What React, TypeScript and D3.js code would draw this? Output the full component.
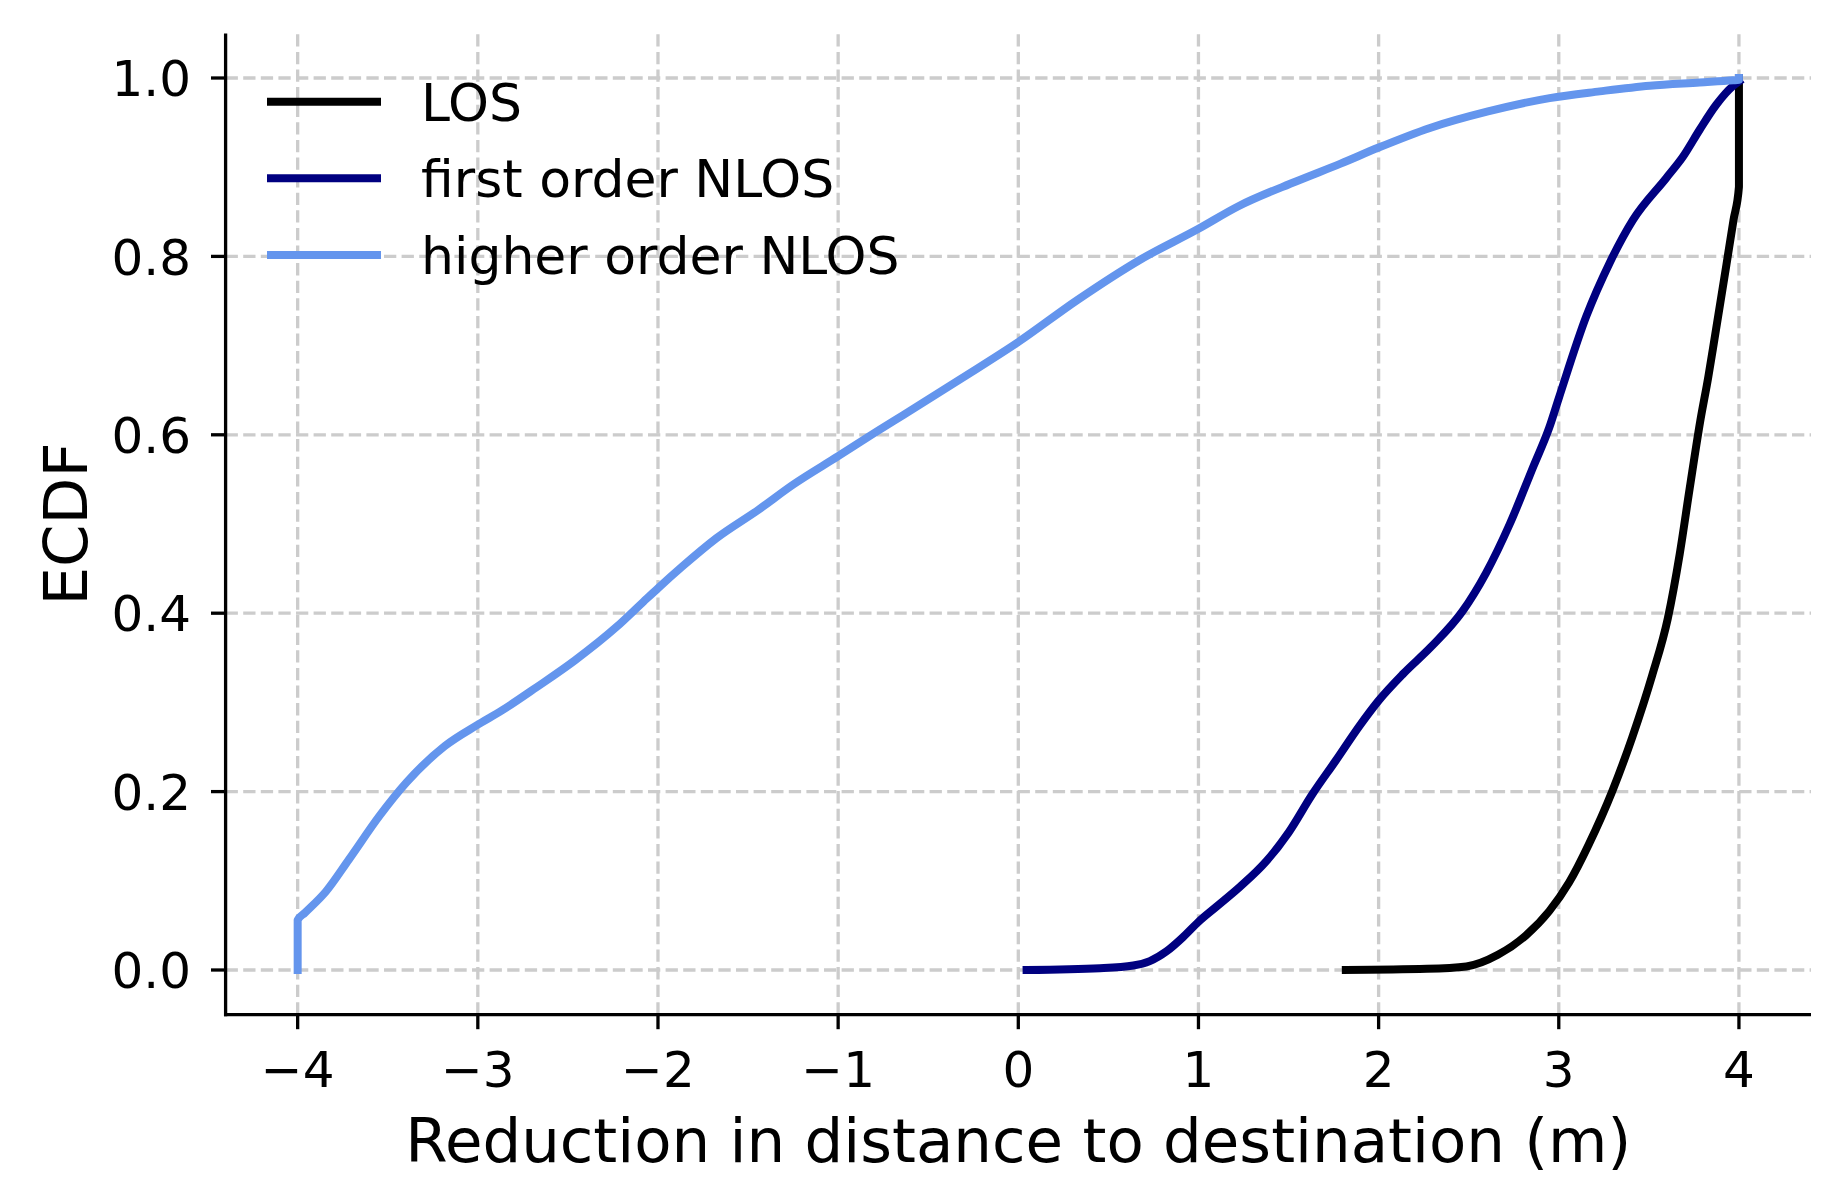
import * as d3 from "d3"
import { useEffect, useRef } from "react"

// values (ECDF of distance reduction)
const losX = [1.818, 2.268, 2.487, 2.662, 2.816, 2.947, 3.057, 3.167, 3.298, 3.408, 3.518, 3.605, 3.671, 3.726, 3.785, 3.83, 3.856, 3.93, 3.97, 4.0, 4.0]
const losY = [0, 0.0013, 0.004, 0.017, 0.0385, 0.066, 0.098, 0.141, 0.201, 0.261, 0.33, 0.394, 0.466, 0.539, 0.615, 0.665, 0.697, 0.79, 0.841, 0.878, 1.0]

const firstX = [0.046, 0.453, 0.638, 0.73, 0.823, 0.915, 1.0, 1.1, 1.229, 1.377, 1.5, 1.632, 1.763, 1.895, 2.0, 2.136, 2.29, 2.465, 2.596, 2.728, 2.86, 2.947, 3.0, 3.153, 3.283, 3.412, 3.597, 3.69, 3.782, 3.874, 3.967, 4.0]
const firstY = [0, 0.002, 0.005, 0.01, 0.021, 0.037, 0.054, 0.071, 0.093, 0.122, 0.154, 0.197, 0.235, 0.274, 0.302, 0.332, 0.362, 0.402, 0.445, 0.5, 0.565, 0.608, 0.641, 0.733, 0.793, 0.841, 0.888, 0.912, 0.942, 0.97, 0.991, 0.996]

const higherX = [-4, -4, -3.96, -3.843, -3.715, -3.545, -3.397, -3.184, -3.0, -2.866, -2.674, -2.462, -2.228, -2.08, -2.0, -1.867, -1.676, -1.442, -1.251, -1.0, -0.767, -0.639, -0.317, 0, 0.327, 0.674, 1.0, 1.219, 1.541, 1.789, 2.0, 2.285, 2.607, 2.949, 3.227, 3.505, 3.782, 3.967, 4.0, 4.0]
const higherY = [0, 0.056, 0.064, 0.088, 0.124, 0.173, 0.21, 0.251, 0.275, 0.291, 0.317, 0.347, 0.385, 0.413, 0.428, 0.452, 0.484, 0.516, 0.544, 0.576, 0.606, 0.622, 0.663, 0.704, 0.751, 0.796, 0.831, 0.856, 0.884, 0.904, 0.922, 0.944, 0.9625, 0.9775, 0.985, 0.9914, 0.995, 0.9974, 0.998, 1.0]

const seriesNames = ["LOS", "first order NLOS", "higher order NLOS"]
const seriesColors = ["#000000", "#000080", "#6495ED"]

const xTicks = [-4, -3, -2, -1, 0, 1, 2, 3, 4]
const yTicks = [0, 0.2, 0.4, 0.6, 0.8, 1.0]

const xLabel = "Reduction in distance to destination (m)"
const yLabel = "ECDF"

export default function App() {
  const svgRef = useRef<SVGSVGElement>(null)

  useEffect(() => {
    if (!svgRef.current) return
    const root = d3.select(svgRef.current)
    root.selectAll("*").remove()

    const width = 1845
    const height = 1204
    const font = "DejaVu Sans, Liberation Sans, sans-serif"

    // axes box
    const left = 225.6
    const right = 1811
    const top = 33.4
    const bottom = 1014.6

    const x = d3.scaleLinear().domain([-4.4, 4.4]).range([left, right])
    const y = d3.scaleLinear().domain([-0.05, 1.05]).range([bottom, top])

    root.attr("width", width).attr("height", height)
    root.append("rect").attr("width", width).attr("height", height).attr("fill", "#fff")

    // dashed grid
    const grid = root.append("g")
      .attr("stroke", "#cccccc")
      .attr("stroke-width", 3.3)
      .attr("stroke-dasharray", "12.3,5.3")
    grid.selectAll("line.gx")
      .data(xTicks)
      .join("line")
      .attr("class", "gx")
      .attr("x1", (d) => x(d))
      .attr("x2", (d) => x(d))
      .attr("y1", bottom)
      .attr("y2", top)
    grid.selectAll("line.gy")
      .data(yTicks)
      .join("line")
      .attr("class", "gy")
      .attr("x1", left)
      .attr("x2", right)
      .attr("y1", (d) => y(d))
      .attr("y2", (d) => y(d))

    // curves
    const series = [
      { name: seriesNames[0], color: seriesColors[0], xs: losX, ys: losY },
      { name: seriesNames[1], color: seriesColors[1], xs: firstX, ys: firstY },
      { name: seriesNames[2], color: seriesColors[2], xs: higherX, ys: higherY },
    ]

    // monotoneX keeps the vertical jumps at the ends straight
    const line = d3.line<[number, number]>()
      .x((d) => x(d[0]))
      .y((d) => y(d[1]))
      .curve(d3.curveMonotoneX)

    root.append("g")
      .selectAll("path")
      .data(series)
      .join("path")
      .attr("fill", "none")
      .attr("stroke", (d) => d.color)
      .attr("stroke-width", 8)
      .attr("stroke-linecap", "square")
      .attr("stroke-linejoin", "round")
      .attr("d", (d) => line(d.xs.map((v, i) => [v, d.ys[i]] as [number, number])))

    // spines (left + bottom only)
    const axes = root.append("g").attr("stroke", "#000").attr("stroke-width", 3.3)
    axes.append("line").attr("x1", left).attr("x2", left).attr("y1", top).attr("y2", bottom + 1.6)
    axes.append("line").attr("x1", left - 1.6).attr("x2", right).attr("y1", bottom).attr("y2", bottom)

    // ticks
    axes.selectAll("line.tx")
      .data(xTicks)
      .join("line")
      .attr("class", "tx")
      .attr("x1", (d) => x(d))
      .attr("x2", (d) => x(d))
      .attr("y1", bottom)
      .attr("y2", bottom + 14.6)
    axes.selectAll("line.ty")
      .data(yTicks)
      .join("line")
      .attr("class", "ty")
      .attr("x1", left)
      .attr("x2", left - 14.6)
      .attr("y1", (d) => y(d))
      .attr("y2", (d) => y(d))

    // tick labels
    root.append("g")
      .selectAll("text")
      .data(xTicks)
      .join("text")
      .attr("x", (d) => x(d))
      .attr("y", 1087)
      .attr("text-anchor", "middle")
      .style("font-family", font)
      .style("font-size", "50px")
      .text((d) => (d < 0 ? "\u2212" + Math.abs(d) : String(d)))

    root.append("g")
      .selectAll("text")
      .data(yTicks)
      .join("text")
      .attr("x", 191)
      .attr("y", (d) => y(d) + 18.2)
      .attr("text-anchor", "end")
      .style("font-family", font)
      .style("font-size", "50px")
      .text((d) => d.toFixed(1))

    // axis labels
    root.append("text")
      .attr("x", (left + right) / 2)
      .attr("y", 1162)
      .attr("text-anchor", "middle")
      .style("font-family", font)
      .style("font-size", "61px")
      .text(xLabel)

    root.append("text")
      .attr("text-anchor", "middle")
      .attr("transform", `translate(87,${(top + bottom) / 2})rotate(-90)`)
      .style("font-family", font)
      .style("font-size", "61px")
      .text(yLabel)

    // legend
    const legend = root.append("g")
      .selectAll("g")
      .data(series)
      .join("g")
      .attr("transform", (d, i) => `translate(0,${101.7 + i * 76.65})`)

    legend.append("line")
      .attr("x1", 271)
      .attr("x2", 377)
      .attr("y1", 0)
      .attr("y2", 0)
      .attr("stroke", (d) => d.color)
      .attr("stroke-width", 8)
      .attr("stroke-linecap", "square")

    legend.append("text")
      .attr("x", 421)
      .attr("y", 19)
      .style("font-family", font)
      .style("font-size", "52px")
      .text((d) => d.name)
  }, [])

  return (
    <svg
      ref={svgRef}
      style={{ position: "absolute", left: 0, top: 0, display: "block" }}
    />
  )
}
